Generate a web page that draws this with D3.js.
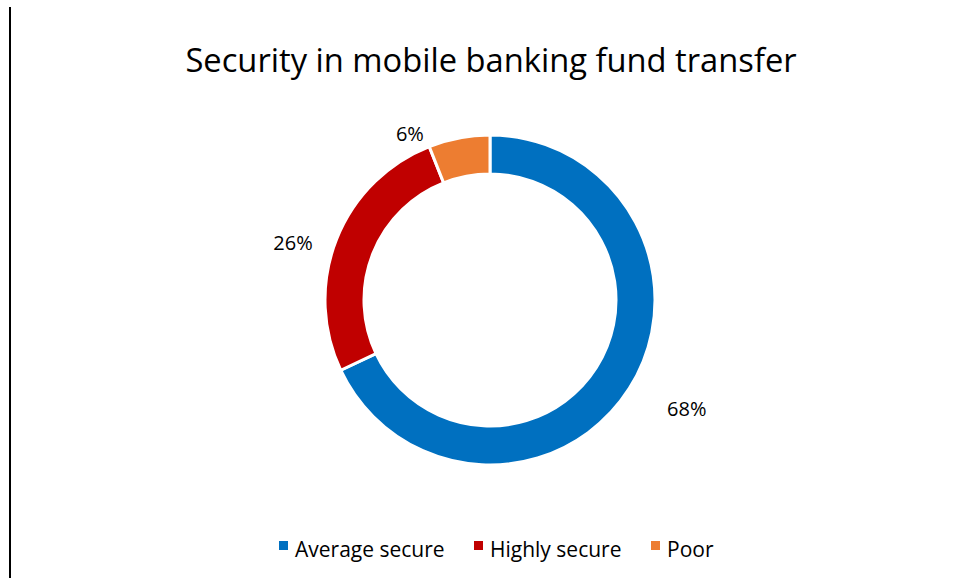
<!DOCTYPE html>
<html>
<head>
<meta charset="utf-8">
<script src="https://cdn.jsdelivr.net/npm/d3@7"></script>
<style>
  html, body { margin: 0; padding: 0; background: #fff; }
  svg text { font-family: "Open Sans", Lato, sans-serif; fill: #000; }
</style>
</head>
<body>
<svg id="chart" width="957" height="578"></svg>
<script>
// Survey shares (percent)
const categories = ["Average secure", "Highly secure", "Poor"];
const values = [68, 26, 6];
const colors = ["#0070C0", "#C00000", "#ED7D31"];
const title = "Security in mobile banking fund transfer";

const svg = d3.select("#chart");
const W = 957, H = 578;
const cx = 490, cy = 300, outerR = 165, innerR = 126;

// label placement: distance from centre and angular nudge (degrees) per slice
const labelRadius = [225, 205, 184];
const labelNudge = [-3.4, -5.5, -15];

// left frame rule
svg.append("line")
  .attr("x1", 10).attr("x2", 10).attr("y1", 7).attr("y2", H)
  .attr("stroke", "#000").attr("stroke-width", 2);

svg.append("text")
  .attr("x", 491).attr("y", 72)
  .attr("text-anchor", "middle")
  .style("font-size", "32.7px")
  .text(title);

const pie = d3.pie().sort(null).value(d => d)(values);
const arc = d3.arc().innerRadius(innerR).outerRadius(outerR);

const g = svg.append("g").attr("transform", `translate(${cx},${cy})`);
g.selectAll("path").data(pie).join("path")
  .attr("d", arc)
  .attr("fill", (d, i) => colors[i])
  .attr("stroke", "#fff")
  .attr("stroke-width", 3);

// percentage labels outside the ring
g.selectAll("text.lbl").data(pie).join("text")
  .attr("class", "lbl")
  .attr("transform", (d, i) => {
    const a = (d.startAngle + d.endAngle) / 2 + labelNudge[i] * Math.PI / 180;
    const r = labelRadius[i];
    return `translate(${r * Math.sin(a)},${-r * Math.cos(a)})`;
  })
  .attr("text-anchor", "middle")
  .attr("dy", "0.35em")
  .style("font-size", "20px")
  .text(d => d.value + "%");

// legend
const legendX = [279, 474, 651];
const lg = svg.append("g");
categories.forEach((c, i) => {
  lg.append("rect")
    .attr("x", legendX[i]).attr("y", 541)
    .attr("width", 9).attr("height", 9)
    .attr("fill", colors[i]);
  lg.append("text")
    .attr("x", legendX[i] + 16).attr("y", 557)
    .style("font-size", "21px")
    .text(c);
});
</script>
</body>
</html>
